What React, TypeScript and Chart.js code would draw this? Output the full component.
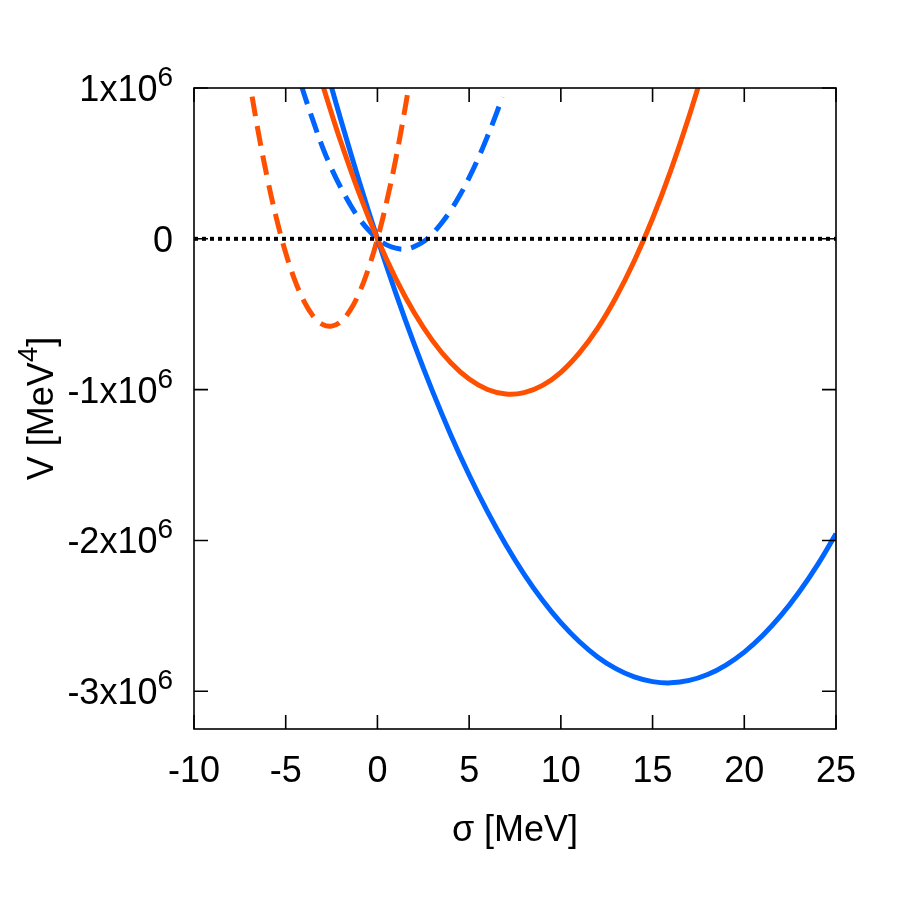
import React, { useEffect, useRef } from "react";
import { Chart, registerables } from "chart.js";

Chart.register(...registerables);

// x: sigma [MeV], y: V in units of 10^6 MeV^4
const sigmaBlueSolid = [-2.7, -2.5, -2, -1, 0, 1, 2, 3, 4, 5, 6, 7, 8, 9, 10, 11, 12, 13, 14, 15, 16, 17, 18, 19, 20, 21, 22, 23, 24, 25];
const vBlueSolid = [1.09, 1.003, 0.791, 0.384, 0, -0.36, -0.697, -1.01, -1.3, -1.566, -1.809, -2.028, -2.224, -2.396, -2.545, -2.67, -2.772, -2.85, -2.905, -2.936, -2.944, -2.928, -2.889, -2.826, -2.74, -2.63, -2.497, -2.34, -2.16, -1.956];

const sigmaOrangeSolid = [-3.1, -3, -2.5, -2, -1, 0, 1, 2, 3, 4, 5, 6, 7, 8, 9, 10, 11, 12, 13, 14, 15, 16, 17, 18];
const vOrangeSolid = [1.066, 1.026, 0.831, 0.645, 0.303, 0, -0.264, -0.489, -0.675, -0.822, -0.93, -0.999, -1.029, -1.02, -0.972, -0.885, -0.758, -0.594, -0.389, -0.147, 0.135, 0.456, 0.816, 1.214];

const sigmaBlueDashed = [-4.15, -4, -3.5, -3, -2.5, -2, -1.5, -1, -0.5, 0, 0.5, 1, 1.5, 2, 2.5, 3, 3.5, 4, 4.5, 5, 5.5, 6, 6.5, 6.8];
const vBlueDashed = [1.02, 0.96, 0.78, 0.61, 0.465, 0.34, 0.23, 0.135, 0.06, 0, -0.04, -0.062, -0.068, -0.052, -0.02, 0.035, 0.105, 0.19, 0.29, 0.405, 0.535, 0.68, 0.835, 0.94];

const sigmaOrangeDashed = [-7.1, -7, -6.5, -6, -5.5, -5, -4.5, -4, -3.5, -3, -2.5, -2, -1.5, -1, -0.5, 0, 0.5, 1, 1.5, 1.8];
const vOrangeDashed = [1.14, 1.065, 0.711, 0.401, 0.133, -0.093, -0.275, -0.415, -0.513, -0.567, -0.579, -0.549, -0.476, -0.36, -0.201, 0, 0.244, 0.53, 0.86, 1.077];

const sigmaZero = [-10, 25];
const vZero = [0, 0];

const xTicks = [-10, -5, 0, 5, 10, 15, 20, 25];
const yTicks = [1, 0, -1, -2, -3];
const yTickBase = ["1x10", "0", "-1x10", "-2x10", "-3x10"];
const yTickSup = ["6", "", "6", "6", "6"];

const BLUE = "#0064ff";
const ORANGE = "#ff5000";
const FONT = '"Liberation Sans", Arial, Helvetica, sans-serif';

const pts = (xs: number[], ys: number[]) => xs.map((x, i) => ({ x, y: ys[i] * 1e6 }));

const framePlugin = {
  id: "framePlugin",
  afterDraw(chart: any) {
    const { ctx, chartArea, scales } = chart;
    const { left, right, top, bottom } = chartArea;
    const xs = scales.x;
    const ys = scales.y;
    ctx.save();
    ctx.strokeStyle = "#000";
    ctx.lineWidth = 1.6;
    ctx.strokeRect(left, top, right - left, bottom - top);
    const tl = 14;
    ctx.beginPath();
    xTicks.forEach((v) => {
      const px = xs.getPixelForValue(v);
      ctx.moveTo(px, bottom);
      ctx.lineTo(px, bottom - tl);
      ctx.moveTo(px, top);
      ctx.lineTo(px, top + tl);
    });
    yTicks.forEach((v) => {
      const py = ys.getPixelForValue(v * 1e6);
      ctx.moveTo(left, py);
      ctx.lineTo(left + tl, py);
      ctx.moveTo(right, py);
      ctx.lineTo(right - tl, py);
    });
    ctx.stroke();

    ctx.fillStyle = "#000";
    // x tick labels
    ctx.font = `36px ${FONT}`;
    ctx.textAlign = "center";
    ctx.textBaseline = "alphabetic";
    xTicks.forEach((v) => {
      const px = xs.getPixelForValue(v);
      ctx.fillText(String(v), px, 782);
    });
    // y tick labels
    const rightEdge = 173;
    yTicks.forEach((v, i) => {
      const py = ys.getPixelForValue(v * 1e6);
      const base = yTickBase[i];
      const sup = yTickSup[i];
      ctx.font = `28px ${FONT}`;
      const sw = sup ? ctx.measureText(sup).width : 0;
      ctx.font = `36px ${FONT}`;
      const bw = ctx.measureText(base).width;
      ctx.textAlign = "left";
      const x0 = rightEdge - sw - bw;
      ctx.fillText(base, x0, py + 13);
      if (sup) {
        ctx.font = `28px ${FONT}`;
        ctx.fillText(sup, x0 + bw, py - 2);
      }
    });
    // x title
    ctx.font = `36px ${FONT}`;
    ctx.textAlign = "center";
    ctx.fillText("σ [MeV]", (left + right) / 2, 841);
    // y title (rotated)
    ctx.save();
    ctx.translate(53, (top + bottom) / 2);
    ctx.rotate(-Math.PI / 2);
    ctx.font = `36px ${FONT}`;
    const t1 = "V [MeV";
    const t3 = "]";
    const w1 = ctx.measureText(t1).width;
    const w3 = ctx.measureText(t3).width;
    ctx.font = `28px ${FONT}`;
    const w2 = ctx.measureText("4").width;
    const total = w1 + w2 + w3;
    let cx = -total / 2;
    ctx.textAlign = "left";
    ctx.font = `36px ${FONT}`;
    ctx.fillText(t1, cx, 0);
    cx += w1;
    ctx.font = `28px ${FONT}`;
    ctx.fillText("4", cx, -16);
    cx += w2;
    ctx.font = `36px ${FONT}`;
    ctx.fillText(t3, cx, 0);
    ctx.restore();
    ctx.restore();
  },
};

export default function App() {
  const ref = useRef<HTMLCanvasElement | null>(null);
  useEffect(() => {
    if (!ref.current) return;
    const common = { pointRadius: 0, pointHoverRadius: 0, showLine: true, fill: false, clip: 0, tension: 0.4 };
    const chart = new Chart(ref.current, {
      type: "scatter",
      data: {
        datasets: [
          { ...common, label: "zero", data: pts(sigmaZero, vZero), borderColor: "#000", borderWidth: 4, borderDash: [4, 4], tension: 0 },
          { ...common, label: "orange solid", data: pts(sigmaOrangeSolid, vOrangeSolid), borderColor: ORANGE, borderWidth: 5 },
          { ...common, label: "blue solid", data: pts(sigmaBlueSolid, vBlueSolid), borderColor: BLUE, borderWidth: 5 },
          { ...common, label: "orange dashed", data: pts(sigmaOrangeDashed, vOrangeDashed), borderColor: ORANGE, borderWidth: 5, borderDash: [20, 10] },
          { ...common, label: "blue dashed", data: pts(sigmaBlueDashed, vBlueDashed), borderColor: BLUE, borderWidth: 5, borderDash: [20, 10] },
        ],
      },
      options: {
        animation: false,
        responsive: false,
        maintainAspectRatio: false,
        events: [],
        layout: { padding: { left: 0, right: 64, top: 88, bottom: 0 } },
        plugins: { legend: { display: false }, tooltip: { enabled: false } },
        scales: {
          x: {
            type: "linear",
            min: -10,
            max: 25,
            grid: { display: false },
            border: { display: false },
            ticks: { display: false },
            afterFit: (s: any) => { s.height = 171; },
          },
          y: {
            type: "linear",
            min: -3.25e6,
            max: 1e6,
            grid: { display: false },
            border: { display: false },
            ticks: { display: false },
            afterFit: (s: any) => { s.width = 194; },
          },
        },
      },
      plugins: [framePlugin],
    });
    return () => chart.destroy();
  }, []);
  return (
    <div style={{ position: "absolute", left: 0, top: 0, width: 900, height: 900, background: "#fff" }}>
      <canvas ref={ref} width={900} height={900} style={{ width: 900, height: 900 }} />
    </div>
  );
}
